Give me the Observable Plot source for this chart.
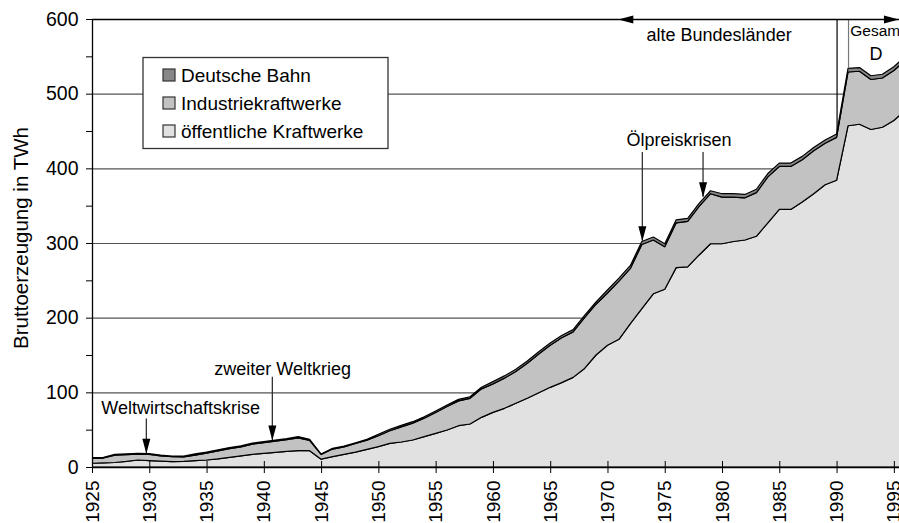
<!DOCTYPE html>
<html><head><meta charset="utf-8">
<script src="https://cdn.jsdelivr.net/npm/d3@7"></script>
<script src="https://cdn.jsdelivr.net/npm/@observablehq/plot@0.6"></script>
<style>
html,body{margin:0;padding:0;background:#fff;overflow:hidden}
#chart svg{display:block;overflow:hidden}
</style></head><body><div id="chart"></div>
<script>
const years = d3.range(1925, 1997);
const oeffentlich = [5,5.5,6,7.5,9.4,8.5,7.8,7.1,7.6,8.5,
  9.4,11,13,15,17,18.3,19.5,21,21.8,21.8,
  10.5,13.8,17,20,23.7,27.2,31.7,33.5,36.2,40.6,
  45,49.5,55.3,57.6,66.5,73.2,78.6,85.3,92,99.5,
  106.7,113,120,132,150,163,171,192,212,232,
  238,267,268,284,299,299,302,304,309,327,
  345,345,355,366,378,384,457,459,452,455,
  464,478];
const industrie = [6.5,6.5,10,9,7.9,8.3,7.2,6.6,5.9,7.5,
  9.1,10.5,11.5,12,13.5,14.2,15,15.5,17.3,13.7,
  6.4,10.2,10,11.5,12.3,14.6,16.8,20.3,22.5,24.8,
  28,31.5,33.3,34.4,38.2,38.1,40.4,42.5,47,51.9,
  56.3,60,61,68,68,70,78,74,86,72,
  57,60,61,65,67,62.5,59.5,56.5,58.5,61.5,
  57.5,57.5,56.5,57.5,55.5,57.5,72,71,67,66,
  67,67];
const bahn = [1,1,1,1,1,1,1,1,1,
  1.5,1.5,1.5,1.5,1.5,1.5,1.5,1.5,1.5,1.5,1.5,
  0.5,1,1,1,1,
  2,2,2,2,2,2,2,2,2,2,
  3,3,3,3,3,3,3,3,3,3,
  4,4,4,4,4,4,4,4,4,4,
  4.5,4.5,4.5,4.5,4.5,4.5,4.5,4.5,4.5,4.5,4.5,
  5,5,5,5,5,5];
const seriesNames = ["öffentliche Kraftwerke","Industriekraftwerke","Deutsche Bahn"];
const seriesColors = ["#e1e1e1","#c2c2c2","#878787"];
const yTicks = [0,100,200,300,400,500,600];
const yMinorTicks = [50,150,250,350,450,550];
const gridValues = [100,200,300,400,500];
const xTicks = d3.range(1925, 1996, 5);
const yLabel = "Bruttoerzeugung in TWh";

const notes = [
  {label:"Weltwirtschaftskrise", year:1932.7, value:79},
  {label:"zweiter Weltkrieg", year:1941.6, value:131},
  {label:"Ölpreiskrisen", year:1976.2, value:438},
  {label:"alte Bundesländer", year:1979.7, value:578.5},
  {label:"D", year:1993.4, value:553}
];
const startNotes = [{label:"Gesamt", year:1991.15, value:584}];
const arrows = [
  {year:1929.7, from:65, to:18.5},
  {year:1940.7, from:121, to:36},
  {year:1973.0, from:422, to:303},
  {year:1978.3, from:422, to:362}
];
const spanHeads = [{year:1970.9, value:600, angle:90},{year:1995.4, value:600, angle:-90}];
const borderYears = [{year:1990, color:"#000"},{year:1991, color:"#777"}];

const long = [];
years.forEach((yr, i) => {
  long.push({year:yr, series:seriesNames[0], value:oeffentlich[i]});
  long.push({year:yr, series:seriesNames[1], value:industrie[i]});
  long.push({year:yr, series:seriesNames[2], value:bahn[i]});
});
const totalOf = yr => { const i = years.indexOf(yr); return oeffentlich[i] + industrie[i] + bahn[i]; };
const borders = borderYears.map(d => ({...d, total: totalOf(d.year)}));

const headSymbol = {draw(ctx){ ctx.moveTo(0,0); ctx.lineTo(-4,-15); ctx.lineTo(4,-15); ctx.closePath(); }};

const FONT = "Liberation Sans, Arial, sans-serif";
const plot = Plot.plot({
  width: 899, height: 523,
  marginTop: 19, marginBottom: 56, marginLeft: 92, marginRight: 0,
  style: {fontFamily: FONT, fontSize: "18px", color: "#000", background: "#fff"},
  x: {domain: [1925, 1995.45]},
  y: {domain: [0, 600]},
  color: {domain: seriesNames, range: seriesColors},
  marks: [
    Plot.ruleY(gridValues, {stroke: "#555", strokeWidth: 1.2}),
    Plot.areaY(long, {x: "year", y: "value", fill: "series", stroke: "#000", strokeWidth: 1.2, clip: true}),
    Plot.ruleX(borders, {x: "year", y1: "total", y2: 600, stroke: "color", strokeWidth: 1.2}),
    Plot.ruleY([600], {stroke: "#000", strokeWidth: 1.3}),
    Plot.ruleY([0], {stroke: "#000", strokeWidth: 1.3}),
    Plot.ruleX([1925], {stroke: "#000", strokeWidth: 1.3}),
    Plot.axisY({ticks: yTicks, tickSize: 6, tickPadding: 8, fontSize: 19.5, label: null, stroke: "#000"}),
    Plot.axisY({ticks: yMinorTicks, tickSize: 6, tickFormat: () => "", label: null}),
    Plot.axisX({ticks: xTicks, tickSize: 6, tickPadding: 7, tickRotate: -90, fontSize: 19, label: null, tickFormat: d => String(d)}),
    Plot.axisX({ticks: xTicks, tickSize: 6, dy: -6, tickFormat: () => "", label: null}),
    Plot.ruleX(arrows, {x: "year", y1: "from", y2: "to", stroke: "#333", strokeWidth: 1.3}),
    Plot.dot(arrows, {x: "year", y: "to", symbol: headSymbol, fill: "#000", stroke: null}),
    Plot.dot(spanHeads, {x: "year", y: "value", symbol: headSymbol, rotate: "angle", fill: "#000", stroke: null}),
    Plot.text(notes, {x: "year", y: "value", text: "label", fontSize: 18, textAnchor: "middle", fill: "#000"}),
    Plot.text(startNotes, {x: "year", y: "value", text: "label", fontSize: 15.5, textAnchor: "start", fill: "#000"})
  ]
});
document.getElementById("chart").appendChild(plot);

const svg = d3.select(plot);
svg.append("text")
  .attr("transform", "translate(28,238) rotate(-90)")
  .attr("text-anchor", "middle")
  .attr("font-family", FONT).attr("font-size", 20.5)
  .attr("fill", "#000")
  .text(yLabel);

const legendOrder = [2, 1, 0];
const lg = svg.append("g").attr("text-anchor", "start");
lg.append("rect").attr("x", 143).attr("y", 57.5).attr("width", 245).attr("height", 91)
  .attr("fill", "#fff").attr("stroke", "#333").attr("stroke-width", 1.3);
legendOrder.forEach((si, k) => {
  const cy = 75 + 28 * k;
  lg.append("rect").attr("x", 163).attr("y", cy - 6).attr("width", 12).attr("height", 12)
    .attr("fill", seriesColors[si]).attr("stroke", "#333").attr("stroke-width", 1.2);
  lg.append("text").attr("x", 181).attr("y", cy).attr("dy", "0.36em")
    .attr("text-anchor", "start")
    .attr("font-family", FONT).attr("font-size", 19).attr("fill", "#000")
    .text(seriesNames[si]);
});
</script></body></html>
